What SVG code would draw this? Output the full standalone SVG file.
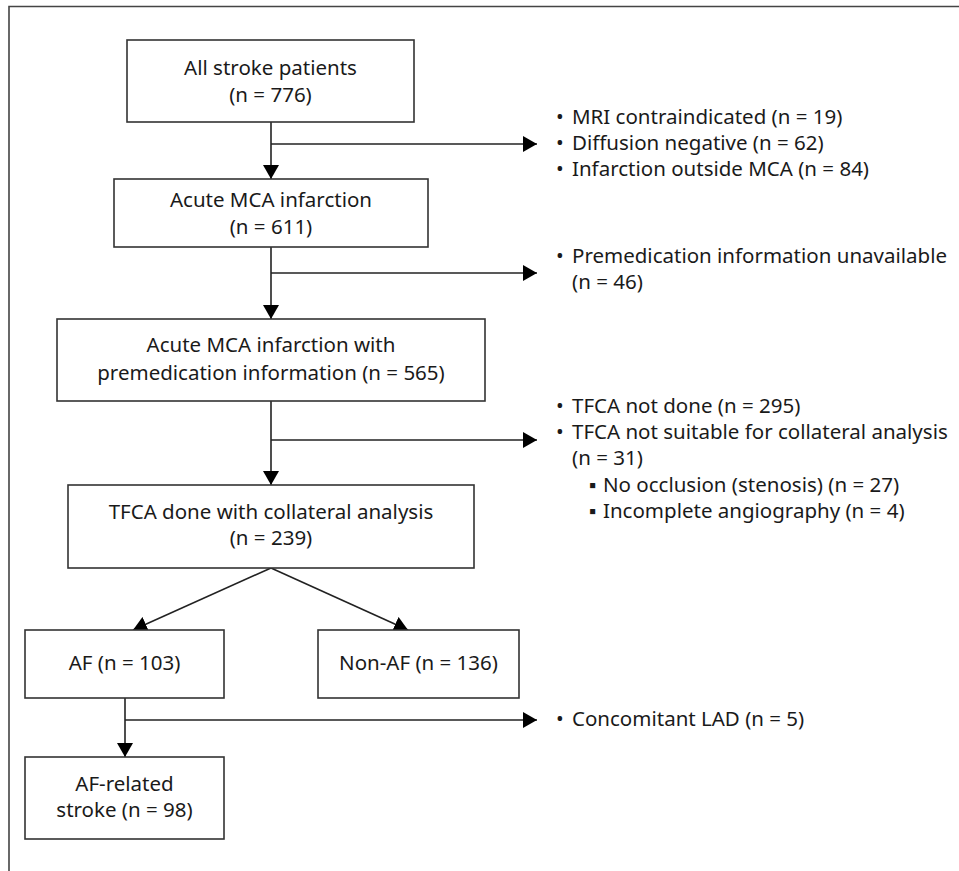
<svg xmlns="http://www.w3.org/2000/svg" width="959" height="871" viewBox="0 0 959 871">
<style>
.box{fill:#fff;stroke:#333;stroke-width:1.6}
.t{font-family:"Noto Sans","Open Sans",sans-serif;font-size:20.5px;fill:#1a1a1a}
.c{text-anchor:middle}
.ln{fill:none;stroke:#222;stroke-width:1.6}
</style>
<defs>
<marker id="ah" viewBox="0 0 14 16" refX="14" refY="8" markerWidth="14" markerHeight="16" markerUnits="userSpaceOnUse" orient="auto">
<path d="M0,0 L14,8 L0,16 Z" fill="#000"/>
</marker>
</defs>
<rect width="959" height="871" fill="#fff"/>
<path d="M9,871 V6.5 H959" fill="none" stroke="#444" stroke-width="1.6"/>

<g id="connectors">
<path class="ln" d="M271,122 V179" marker-end="url(#ah)"/>
<path class="ln" d="M271,144 H537" marker-end="url(#ah)"/>
<path class="ln" d="M271,247 V319" marker-end="url(#ah)"/>
<path class="ln" d="M271,273 H537" marker-end="url(#ah)"/>
<path class="ln" d="M271,401 V485" marker-end="url(#ah)"/>
<path class="ln" d="M271,440 H537" marker-end="url(#ah)"/>
<path class="ln" d="M271,568 L133,630" marker-end="url(#ah)"/>
<path class="ln" d="M271,568 L408,630" marker-end="url(#ah)"/>
<path class="ln" d="M125,698 V757" marker-end="url(#ah)"/>
<path class="ln" d="M125,720 H537" marker-end="url(#ah)"/>
</g>

<g id="n1">
<rect class="box" x="127" y="40" width="287" height="82"/>
<text class="t c" x="270.5" y="75">All stroke patients</text>
<text class="t c" x="270.5" y="102">(n = 776)</text>
</g>
<g id="n2">
<rect class="box" x="114" y="179" width="314" height="68"/>
<text class="t c" x="271" y="207">Acute MCA infarction</text>
<text class="t c" x="271" y="234">(n = 611)</text>
</g>
<g id="n3">
<rect class="box" x="57" y="319" width="428" height="82"/>
<text class="t c" x="271" y="352">Acute MCA infarction with</text>
<text class="t c" x="271" y="380">premedication information (n = 565)</text>
</g>
<g id="n4">
<rect class="box" x="68" y="485" width="406" height="83"/>
<text class="t c" x="271" y="519">TFCA done with collateral analysis</text>
<text class="t c" x="271" y="545">(n = 239)</text>
</g>
<g id="n5">
<rect class="box" x="25" y="630" width="199" height="68"/>
<text class="t c" x="124.5" y="670">AF (n = 103)</text>
</g>
<g id="n6">
<rect class="box" x="318" y="630" width="201" height="68"/>
<text class="t c" x="418.5" y="670">Non-AF (n = 136)</text>
</g>
<g id="n7">
<rect class="box" x="25" y="757" width="199" height="82"/>
<text class="t c" x="124.5" y="791">AF-related</text>
<text class="t c" x="124.5" y="817">stroke (n = 98)</text>
</g>

<g id="e1">
<text class="t" x="556" y="124">•</text><text class="t" x="572" y="124">MRI contraindicated (n = 19)</text>
<text class="t" x="556" y="150">•</text><text class="t" x="572" y="150">Diffusion negative (n = 62)</text>
<text class="t" x="556" y="176">•</text><text class="t" x="572" y="176">Infarction outside MCA (n = 84)</text>
</g>
<g id="e2">
<text class="t" x="556" y="263">•</text><text class="t" x="572" y="263">Premedication information unavailable</text>
<text class="t" x="572" y="289">(n = 46)</text>
</g>
<g id="e3">
<text class="t" x="556" y="413">•</text><text class="t" x="572" y="413">TFCA not done (n = 295)</text>
<text class="t" x="556" y="439">•</text><text class="t" x="572" y="439">TFCA not suitable for collateral analysis</text>
<text class="t" x="572" y="465">(n = 31)</text>
<text class="t" x="589" y="492">▪</text><text class="t" x="603" y="492">No occlusion (stenosis) (n = 27)</text>
<text class="t" x="589" y="518">▪</text><text class="t" x="603" y="518">Incomplete angiography (n = 4)</text>
</g>
<g id="e4">
<text class="t" x="556" y="726">•</text><text class="t" x="572" y="726">Concomitant LAD (n = 5)</text>
</g>
</svg>
